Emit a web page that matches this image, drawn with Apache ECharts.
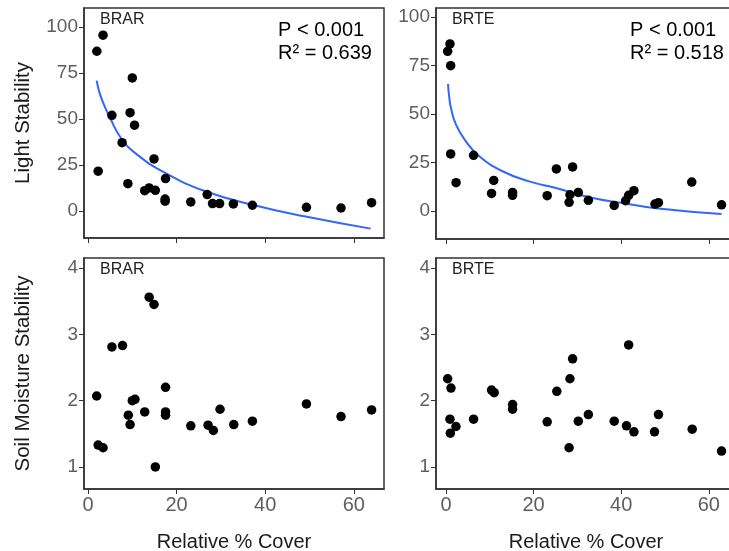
<!DOCTYPE html>
<html>
<head>
<meta charset="utf-8">
<script src="https://cdn.jsdelivr.net/npm/echarts@6/dist/echarts.min.js"></script>
<style>
html,body{margin:0;padding:0;background:#fff;}
#chart{width:729px;height:551px;}
</style>
</head>
<body>
<div id="chart"></div>
<script>
// ---- data ----
const xTicks = [0, 20, 40, 60];
const lightTicks = [0, 25, 50, 75, 100];
const soilTicks = [1, 2, 3, 4];

// BRAR - Light Stability
const brarLightX = [3.4, 2.0, 10.0, 5.4, 9.5, 10.5, 7.7, 14.9, 2.3, 9.0, 17.5, 12.8, 13.8, 15.2, 17.4, 17.4, 23.2, 26.9, 28.1, 29.7, 32.8, 37.1, 49.3, 57.1, 64.0];
const brarLightY = [95.5, 86.8, 72.3, 52.0, 53.4, 46.6, 37.1, 28.3, 21.6, 14.8, 17.6, 11.0, 12.5, 11.2, 6.5, 5.3, 4.9, 8.9, 4.0, 4.0, 3.8, 3.1, 2.0, 1.6, 4.5];
const brarFitX = [1.96, 2.6, 3.6, 5.0, 7.4, 11.1, 17.5, 26.2, 37.1, 48.8, 63.8];
const brarFitY = [70.8, 64.3, 57.8, 50.5, 39.8, 30.6, 20.6, 11.0, 3.4, -2.9, -9.6];

// BRTE - Light Stability
const brteLightX = [0.91, 0.38, 1.07, 1.07, 6.3, 2.3, 10.9, 10.4, 15.2, 15.2, 23.1, 25.2, 28.9, 28.3, 28.1, 30.2, 32.5, 38.4, 41.0, 41.7, 42.9, 47.7, 48.5, 56.1, 62.9];
const brteLightY = [86.1, 82.3, 74.9, 29.4, 28.7, 14.6, 15.8, 9.1, 9.6, 8.1, 7.9, 21.7, 22.7, 8.4, 4.5, 9.6, 5.5, 2.9, 5.3, 8.1, 10.5, 3.6, 4.3, 14.9, 3.2];
const brteFitX = [0.46, 0.7, 1.14, 2.28, 4.56, 7.6, 12.9, 19.0, 25.1, 32.7, 40.3, 47.9, 62.9];
const brteFitY = [65.5, 59.5, 53.1, 44.5, 35.9, 28.2, 20.5, 15.3, 11.9, 7.1, 4.1, 1.5, -1.5];

// BRAR - Soil Moisture Stability
const brarSoilX = [13.8, 14.9, 5.4, 7.8, 17.5, 1.96, 10.0, 10.6, 9.1, 12.8, 17.5, 17.5, 9.5, 23.2, 2.3, 3.4, 15.2, 27.1, 28.3, 29.8, 32.9, 37.1, 49.3, 57.1, 64.0];
const brarSoilY = [3.56, 3.45, 2.81, 2.83, 2.20, 2.07, 2.00, 2.02, 1.78, 1.83, 1.83, 1.78, 1.64, 1.62, 1.33, 1.29, 1.00, 1.63, 1.55, 1.87, 1.64, 1.69, 1.95, 1.76, 1.86];

// BRTE - Soil Moisture Stability
const brteSoilX = [0.38, 1.14, 10.4, 11.0, 15.2, 15.2, 0.91, 2.28, 0.99, 6.3, 23.1, 25.3, 28.9, 28.3, 30.2, 28.1, 32.5, 41.7, 38.4, 41.2, 42.9, 47.6, 48.5, 56.2, 62.9];
const brteSoilY = [2.33, 2.19, 2.16, 2.12, 1.94, 1.87, 1.72, 1.61, 1.51, 1.72, 1.68, 2.14, 2.63, 2.33, 1.69, 1.29, 1.79, 2.84, 1.69, 1.62, 1.53, 1.53, 1.79, 1.57, 1.24];

const panelNames = ['BRAR', 'BRTE'];
const statsP = ['P < 0.001', 'P < 0.001'];
const statsR2 = ['R\u00B2 = 0.639', 'R\u00B2 = 0.518'];
const xTitle = 'Relative % Cover';
const yTitles = ['Light Stability', 'Soil Moisture Stability'];

// ---- build chart ----
const zip = (xs, ys) => xs.map((x, i) => [x, ys[i]]);
const FONT = 'Liberation Sans, Arial, sans-serif';
const tickColor = '#5e5e5e';
const borderColor = '#333333';

const grids = [
  {left: 84, top: 8, width: 300, height: 230},
  {left: 436, top: 8, width: 300, height: 231},
  {left: 84, top: 258, width: 300, height: 231},
  {left: 436, top: 258, width: 300, height: 231}
].map(g => Object.assign({show: true, borderColor: borderColor, borderWidth: 1.5, backgroundColor: '#fff', containLabel: false, outerBoundsMode: 'none'}, g));

function xAxis(gi, min, max, labels) {
  return {
    type: 'value', gridIndex: gi, min: min, max: max,
    splitLine: {show: false},
    axisLine: {show: true, onZero: false, lineStyle: {color: borderColor, width: 1.5}},
    axisTick: {show: true, length: 5, customValues: xTicks, lineStyle: {color: borderColor, width: 1}},
    axisLabel: {show: labels, customValues: xTicks, color: tickColor, fontSize: 20, fontFamily: FONT, margin: 6},
    name: labels ? xTitle : '', nameLocation: 'middle', nameGap: 43,
    nameTextStyle: {color: '#1a1a1a', fontSize: 20, fontFamily: FONT}
  };
}
function yAxis(gi, min, max, ticks, name) {
  return {
    type: 'value', gridIndex: gi, min: min, max: max,
    splitLine: {show: false},
    axisLine: {show: true, onZero: false, lineStyle: {color: borderColor, width: 1.5}},
    axisTick: {show: true, length: 5, customValues: ticks, lineStyle: {color: borderColor, width: 1}},
    axisLabel: {show: true, customValues: ticks, color: tickColor, fontSize: 19, fontFamily: FONT, margin: 6},
    name: name || '', nameLocation: 'middle', nameGap: 50,
    nameTextStyle: {color: '#1a1a1a', fontSize: 20.5, fontFamily: FONT}
  };
}

const pointStyle = {color: '#000', opacity: 1};
function scatter(i, xs, ys) {
  return {type: 'scatter', xAxisIndex: i, yAxisIndex: i, data: zip(xs, ys), symbolSize: 9.5, itemStyle: pointStyle, z: 3, silent: true};
}
function fit(i, xs, ys) {
  return {type: 'line', xAxisIndex: i, yAxisIndex: i, data: zip(xs, ys), smooth: 0.5, showSymbol: false, lineStyle: {color: '#3366FF', width: 2}, z: 2, silent: true};
}

const texts = [];
function addText(x, y, txt, size, color) {
  texts.push({type: 'text', left: x, top: y, style: {text: txt, fontSize: size, fontFamily: FONT, fill: color}});
}
addText(100, 12, panelNames[0], 16, '#222');
addText(452, 12, panelNames[1], 16, '#222');
addText(100, 262, panelNames[0], 16, '#222');
addText(452, 262, panelNames[1], 16, '#222');
addText(278, 20, statsP[0], 20, '#000');
addText(278, 43, statsR2[0], 20, '#000');
addText(630, 20, statsP[1], 20, '#000');
addText(630, 43, statsR2[1], 20, '#000');

const option = {
  animation: false,
  backgroundColor: '#fff',
  grid: grids,
  xAxis: [
    xAxis(0, -0.9, 66.8, false),
    xAxis(1, -2.28, 66.2, false),
    xAxis(2, -0.9, 66.8, true),
    xAxis(3, -2.28, 66.2, true)
  ],
  yAxis: [
    yAxis(0, -14.7, 110.3, lightTicks, yTitles[0]),
    yAxis(1, -14.4, 104.6, lightTicks, ''),
    yAxis(2, 0.668, 4.15, soilTicks, yTitles[1]),
    yAxis(3, 0.668, 4.15, soilTicks, '')
  ],
  series: [
    fit(0, brarFitX, brarFitY),
    scatter(0, brarLightX, brarLightY),
    fit(1, brteFitX, brteFitY),
    scatter(1, brteLightX, brteLightY),
    scatter(2, brarSoilX, brarSoilY),
    scatter(3, brteSoilX, brteSoilY)
  ],
  graphic: texts
};

const chart = echarts.init(document.getElementById('chart'), null, {renderer: 'canvas'});
chart.setOption(option);
</script>
</body>
</html>
